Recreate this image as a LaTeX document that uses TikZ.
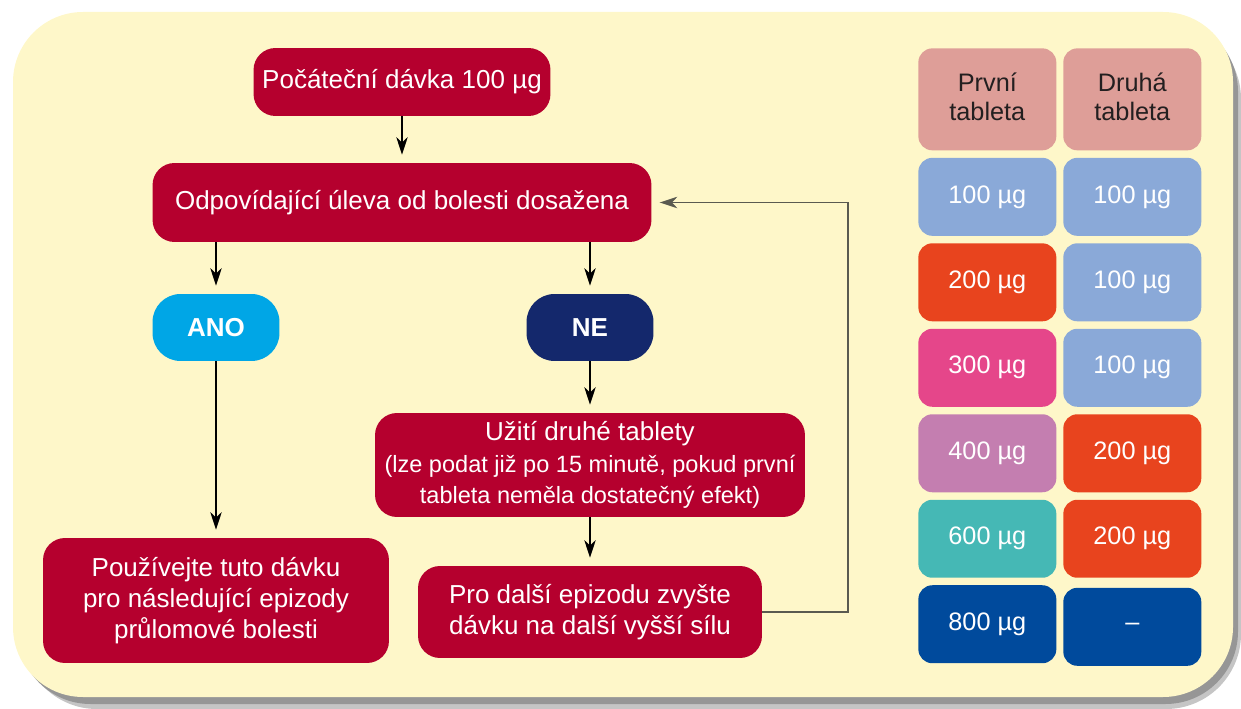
\documentclass[tikz,border=0pt]{standalone}
\usepackage{fontspec}
\setmainfont{Liberation Sans}
\usetikzlibrary{arrows.meta,chains,matrix,scopes}
\definecolor{pozadi}{RGB}{254,247,201}
\definecolor{stin}{RGB}{150,150,150}
\definecolor{vinova}{RGB}{181,0,46}
\definecolor{barvaAno}{RGB}{0,166,230}
\definecolor{barvaNe}{RGB}{20,40,108}
\definecolor{barvaHlav}{RGB}{222,158,152}
\definecolor{textHlav}{RGB}{35,31,32}
\definecolor{sv100}{RGB}{138,169,216}
\definecolor{sv200}{RGB}{232,68,30}
\definecolor{sv300}{RGB}{229,70,138}
\definecolor{sv400}{RGB}{196,126,176}
\definecolor{sv600}{RGB}{69,184,181}
\definecolor{sv800}{RGB}{0,74,156}
\definecolor{cara}{RGB}{90,90,80}
\newcommand\normalni{\fontsize{14.8}{17.8}\selectfont}
\newcommand\drobne{\fontsize{13.4}{17.8}\selectfont}
\newcommand\tabulkova{\fontsize{14.4}{18}\selectfont}
\newcommand\dvaradky[2]{\begin{tabular}{@{}c@{}}#1\\[-1.5pt]#2\end{tabular}}
\tikzset{>={Stealth[length=10pt,width=6.5pt,inset=3pt]},
	krabice/.style={fill=vinova, text=white, rounded corners=0.44cm,
		align=center, inner sep=0pt, font=\normalni},
	odpoved/.style={text=white, rounded corners=0.56cm, inner sep=0pt,
		minimum width=2.54cm, minimum height=1.34cm, font=\normalni\bfseries},
	bunka/.style={rounded corners=0.28cm, minimum width=2.76cm,
		minimum height=1.56cm, inner sep=0pt, text=white, font=\tabulkova},
	hlavicka/.style={fill=barvaHlav, text=textHlav, minimum height=2.04cm},
	sipka/.style={->, line width=1pt, shorten >=4.5pt},
	every join/.style={sipka},
	smycka/.style={draw=cara, line width=1.1pt, shorten >=4.5pt}}

\begin{document}
\begin{tikzpicture}[x=0.02cm, y=-0.02cm]
	\useasboundingbox (0,0) rectangle (1241,709);
	% podklad se stinem
	\fill[stin!55, rounded corners=1.5cm] (22,24) rectangle (1241,709);
	\fill[stin, rounded corners=1.45cm] (18,19) rectangle (1238,704);
	\fill[pozadi, rounded corners=1.4cm] (13,12) rectangle (1233,697);
	
	% diagram
	\node[krabice, minimum width=5.94cm, minimum height=1.36cm] (start)
		at (402,82) {Počáteční dávka 100 µg};
	\node[krabice, minimum width=9.98cm, minimum height=1.58cm] (main)
		at (402,202.5) {Odpovídající úleva od bolesti dosažena};
	\node[odpoved, fill=barvaAno] (ano) at (216,327.5) {ANO};
	\node[odpoved, fill=barvaNe] (ne) at (590,327.5) {NE};
	\node[krabice, minimum width=8.6cm, minimum height=2.08cm] (druha)
		at (590,465) {Užití druhé tablety\\
		\drobne (lze podat již po 15 minutě, pokud první\\
		\drobne tableta neměla dostatečný efekt)};
	\node[krabice, minimum width=6.92cm, minimum height=2.5cm] (pouzivejte)
		at (216,600.5) {Používejte tuto dávku\\pro následující epizody\\průlomové bolesti};
	\node[krabice, minimum width=6.88cm, minimum height=1.84cm] (dalsi)
		at (590,612) {Pro další epizodu zvyšte\\dávku na další vyšší sílu};
	\coordinate (zpet) at (848,400);
	
	{ [start chain]
		\chainin (start);
		\chainin (main) [join];
	}
	{ [start chain]
		\chainin (ano);
		\chainin (pouzivejte) [join];
	}
	{ [start chain]
		\chainin (ne);
		\chainin (druha) [join];
		\chainin (dalsi) [join];
	}
	\draw[sipka] (ano |- main.south) -- (ano);
	\draw[sipka] (ne |- main.south) -- (ne);
	\draw[->, smycka] (dalsi.east) -| (zpet) |- (main.east);
	
	% tabulka davek
	\matrix (tab) [matrix of nodes, matrix anchor=north west, inner sep=0pt,
		row sep=0.15cm, column sep=0.14cm, nodes={bunka}] at (918,48)
	{
		|[hlavicka]| \dvaradky{První}{tableta} & |[hlavicka]| \dvaradky{Druhá}{tableta} \\
		|[fill=sv100]| 100 µg & |[fill=sv100]| 100 µg \\
		|[fill=sv200]| 200 µg & |[fill=sv100]| 100 µg \\
		|[fill=sv300]| 300 µg & |[fill=sv100]| 100 µg \\
		|[fill=sv400]| 400 µg & |[fill=sv200]| 200 µg \\
		|[fill=sv600]| 600 µg & |[fill=sv200]| 200 µg \\
		|[fill=sv800]| 800 µg & |[fill=sv800]| -- \\
	};
\end{tikzpicture}
\end{document}
